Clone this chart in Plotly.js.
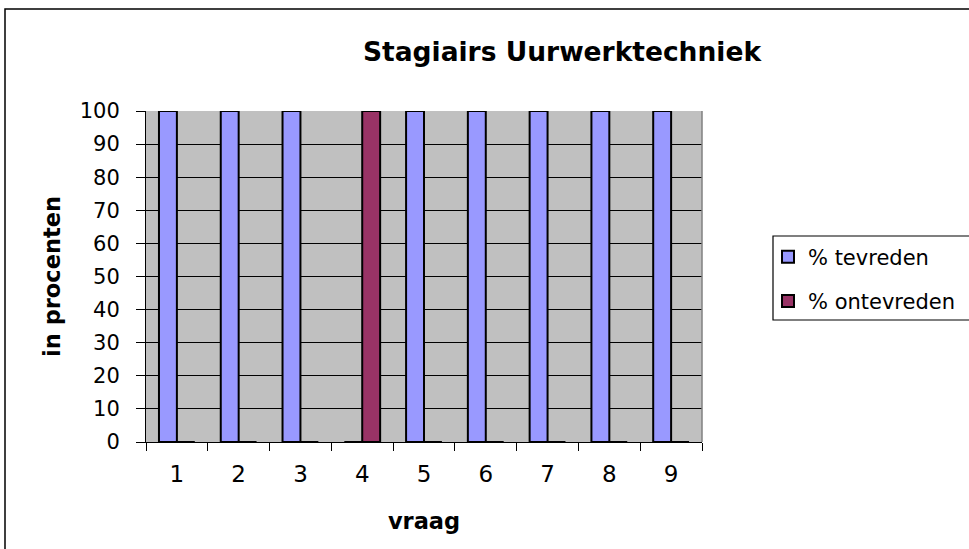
<!DOCTYPE html>
<html>
<head>
<meta charset="utf-8">
<script src="https://cdn.plot.ly/plotly-3.0.1.min.js"></script>
<style>
html, body { margin: 0; padding: 0; background: #ffffff; }
#chart { width: 969px; height: 549px; }
</style>
</head>
<body>
<div id="chart"></div>
<script>
// Data
const categories = ["1", "2", "3", "4", "5", "6", "7", "8", "9"];
const tevreden = [100, 100, 100, 0, 100, 100, 100, 100, 100];
const ontevreden = [0, 0, 0, 100, 0, 0, 0, 0, 0];
const seriesNames = ["% tevreden", "% ontevreden"];
const yTicks = [0, 10, 20, 30, 40, 50, 60, 70, 80, 90, 100];
const chartTitle = "Stagiairs Uurwerktechniek";
const xTitle = "vraag";
const yTitle = "in procenten";

const FONT = "DejaVu Sans, Liberation Sans, Arial, sans-serif";

// geometry helpers (pixel -> paper) for the decorative frames
const L = 146, R = 702, T = 111, B = 442;
const px = x => (x - L) / (R - L);
const py = y => (B - y) / (B - T);

const traces = [
  {
    type: "bar",
    name: seriesNames[0],
    x: categories,
    y: tevreden,
    legendgroup: "a",
    marker: { color: "#9999FF", line: { color: "#000000", width: 2 } },
    hoverinfo: "x+y+name"
  },
  {
    type: "bar",
    name: seriesNames[1],
    x: categories,
    y: ontevreden,
    legendgroup: "b",
    marker: { color: "#993366", line: { color: "#000000", width: 2 } },
    hoverinfo: "x+y+name"
  }
];

const layout = {
  width: 969,
  height: 549,
  margin: { l: L, r: 969 - R, t: T, b: 549 - B, pad: 0, autoexpand: false },
  paper_bgcolor: "#ffffff",
  plot_bgcolor: "#C0C0C0",
  barmode: "group",
  bargap: 0.42,
  bargroupgap: 0,
  font: { family: FONT, color: "#000000" },
  title: {
    text: chartTitle,
    font: { family: FONT, size: 26.5, weight: "bold", color: "#000000" },
    x: 562 / 969,
    xanchor: "center",
    xref: "container",
    y: 1 - 52 / 549,
    yanchor: "middle",
    yref: "container"
  },
  xaxis: {
    type: "category",
    tickson: "boundaries",
    ticks: "outside",
    ticklen: 8,
    tickwidth: 1,
    tickcolor: "#000000",
    showline: true,
    linecolor: "#000000",
    linewidth: 1,
    showgrid: false,
    zeroline: false,
    ticklabelstandoff: 11,
    tickfont: { family: FONT, size: 23, color: "#000000" },
    title: {
      text: xTitle,
      font: { family: FONT, size: 22.5, weight: "bold", color: "#000000" },
      standoff: 27
    },
    fixedrange: true
  },
  yaxis: {
    range: [0, 100],
    tickvals: yTicks,
    ticktext: yTicks.map(String),
    ticks: "outside",
    ticklen: 9,
    tickwidth: 1,
    tickcolor: "#000000",
    showline: true,
    linecolor: "#000000",
    linewidth: 1,
    showgrid: true,
    gridcolor: "#000000",
    gridwidth: 1,
    zeroline: false,
    ticklabelstandoff: 12,
    tickfont: { family: FONT, size: 21, color: "#000000" },
    title: {
      text: yTitle,
      font: { family: FONT, size: 22.5, weight: "bold", color: "#000000" },
      standoff: 12
    },
    fixedrange: true
  },
  showlegend: true,
  legend: {
    x: px(768),
    xanchor: "left",
    y: py(236.5),
    yanchor: "top",
    xref: "paper",
    yref: "paper",
    bgcolor: "rgba(0,0,0,0)",
    borderwidth: 0,
    traceorder: "grouped",
    tracegroupgap: 14,
    font: { family: FONT, size: 21, color: "#000000" }
  },
  shapes: [
    // outer chart frame
    { type: "rect", xref: "paper", yref: "paper",
      x0: px(5), x1: px(985), y0: py(565), y1: py(9),
      line: { color: "#000000", width: 1.5 }, fillcolor: "rgba(0,0,0,0)", layer: "above" },
    // legend box
    { type: "rect", xref: "paper", yref: "paper",
      x0: px(773), x1: px(985), y0: py(320), y1: py(236),
      line: { color: "#000000", width: 1.2 }, fillcolor: "rgba(0,0,0,0)", layer: "above" },
    // right edge of plot area
    { type: "line", xref: "paper", yref: "paper",
      x0: 1, x1: 1, y0: 0, y1: 1,
      line: { color: "#808080", width: 1.5 }, layer: "above" }
  ]
};

Plotly.newPlot("chart", traces, layout, { displayModeBar: false, staticPlot: true });
</script>
</body>
</html>
